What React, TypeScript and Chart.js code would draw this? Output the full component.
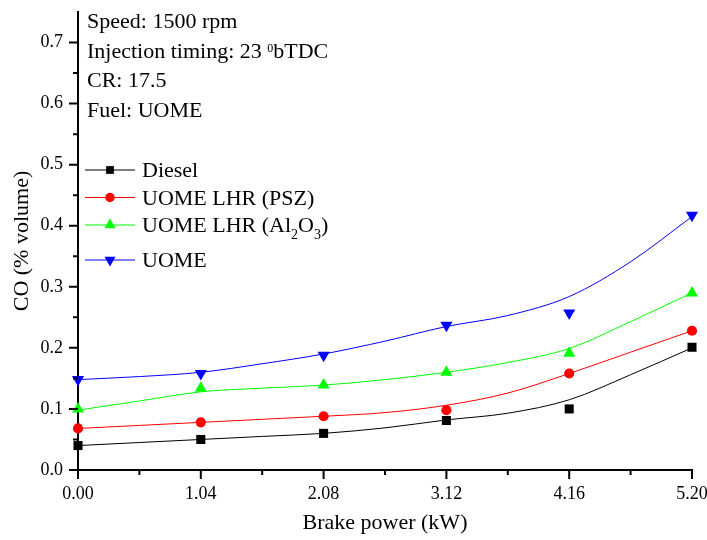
import { useEffect, useRef } from 'react';
import { Chart, registerables } from 'chart.js';
import { drawPoint } from 'chart.js/helpers';

Chart.register(...registerables);

const FONT = '"Liberation Serif", "Times New Roman", serif';

// Measured points
const X_VALUES = [0, 1.04, 2.08, 3.12, 4.16, 5.2];
const DIESEL = [0.04, 0.05, 0.06, 0.081, 0.1, 0.201];
const UOME_PSZ = [0.068, 0.078, 0.088, 0.098, 0.158, 0.228];
const UOME_AL2O3 = [0.1, 0.134, 0.139, 0.16, 0.191, 0.29];
const UOME = [0.148, 0.158, 0.188, 0.237, 0.257, 0.417];

// Fitted curves
const FIT_X = [0, 0.52, 1.04, 1.56, 2.08, 2.6, 3.12, 3.64, 4.16, 4.68, 5.2];
const FIT_DIESEL = [0.04, 0.045, 0.05, 0.055, 0.06, 0.069, 0.082, 0.093, 0.115, 0.156, 0.2];
const FIT_PSZ = [0.068, 0.073, 0.078, 0.083, 0.088, 0.094, 0.106, 0.126, 0.158, 0.193, 0.228];
const FIT_AL2O3 = [0.098, 0.113, 0.128, 0.134, 0.139, 0.148, 0.16, 0.176, 0.199, 0.243, 0.29];
const FIT_UOME = [0.148, 0.153, 0.16, 0.174, 0.19, 0.211, 0.235, 0.253, 0.284, 0.341, 0.415];

const X_TICKS_MAJOR = [0, 1.04, 2.08, 3.12, 4.16, 5.2];
const X_TICKS_MINOR = [0.52, 1.56, 2.6, 3.64, 4.68];
const Y_TICKS_MAJOR = [0, 0.1, 0.2, 0.3, 0.4, 0.5, 0.6, 0.7];
const Y_TICKS_MINOR = [0.05, 0.15, 0.25, 0.35, 0.45, 0.55, 0.65];

type Part = { t: string; m?: 'sup' | 'sub' };

const ANNOTATION: Part[][] = [
  [{ t: 'Speed: 1500 rpm' }],
  [{ t: 'Injection timing: 23 ' }, { t: '0', m: 'sup' }, { t: 'bTDC' }],
  [{ t: 'CR: 17.5' }],
  [{ t: 'Fuel: UOME' }],
];

const SERIES = [
  { label: [{ t: 'Diesel' }] as Part[], color: '#000000', style: 'rect', radius: 6.4, legR: 5.5, rotation: 0, pts: DIESEL, fit: FIT_DIESEL },
  { label: [{ t: 'UOME LHR (PSZ)' }] as Part[], color: '#FF0000', style: 'circle', radius: 5.1, legR: 4.7, rotation: 0, pts: UOME_PSZ, fit: FIT_PSZ },
  {
    label: [{ t: 'UOME LHR (Al' }, { t: '2', m: 'sub' }, { t: 'O' }, { t: '3', m: 'sub' }, { t: ')' }] as Part[],
    color: '#00FF00', style: 'triangle', radius: 7, legR: 6.4, rotation: 0, pts: UOME_AL2O3, fit: FIT_AL2O3,
  },
  { label: [{ t: 'UOME' }] as Part[], color: '#0000FF', style: 'triangle', radius: 7, legR: 6.4, rotation: 180, pts: UOME, fit: FIT_UOME },
];

function drawRich(ctx: CanvasRenderingContext2D, parts: Part[], x: number, y: number, size: number) {
  let cx = x;
  for (const p of parts) {
    const s = p.m === 'sup' ? 12 : p.m === 'sub' ? 14 : size;
    ctx.font = `${s}px ${FONT}`;
    const dy = p.m === 'sup' ? -6 : p.m === 'sub' ? 7 : 0;
    ctx.fillText(p.t, cx, y + dy);
    cx += ctx.measureText(p.t).width;
  }
}

const overlayPlugin = {
  id: 'overlay',
  afterDraw(chart: any) {
    const ctx: CanvasRenderingContext2D = chart.ctx;
    const xs = chart.scales.x;
    const ys = chart.scales.y;
    ctx.save();
    ctx.strokeStyle = '#000';
    ctx.lineWidth = 2;
    ctx.beginPath();
    const bottom = ys.getPixelForValue(0);
    const left = xs.getPixelForValue(0);
    for (const v of X_TICKS_MAJOR) {
      const px = xs.getPixelForValue(v);
      ctx.moveTo(px, bottom);
      ctx.lineTo(px, bottom + 9);
    }
    for (const v of X_TICKS_MINOR) {
      const px = xs.getPixelForValue(v);
      ctx.moveTo(px, bottom);
      ctx.lineTo(px, bottom + 5);
    }
    for (const v of Y_TICKS_MAJOR) {
      const py = ys.getPixelForValue(v);
      ctx.moveTo(left, py);
      ctx.lineTo(left - 9, py);
    }
    for (const v of Y_TICKS_MINOR) {
      const py = ys.getPixelForValue(v);
      ctx.moveTo(left, py);
      ctx.lineTo(left - 5, py);
    }
    ctx.stroke();

    // annotation text
    ctx.fillStyle = '#000';
    ctx.textBaseline = 'alphabetic';
    ctx.textAlign = 'left';
    const annBase = [28, 58, 87, 117];
    ANNOTATION.forEach((parts, i) => drawRich(ctx, parts, 87, annBase[i], 22));

    // legend
    const legY = [170, 197.5, 225, 260];
    SERIES.forEach((s, i) => {
      const y = legY[i];
      ctx.strokeStyle = s.color;
      ctx.lineWidth = 1;
      ctx.beginPath();
      ctx.moveTo(85, y);
      ctx.lineTo(135, y);
      ctx.stroke();
      ctx.fillStyle = s.color;
      ctx.strokeStyle = s.color;
      drawPoint(ctx, { pointStyle: s.style as any, radius: s.legR, rotation: s.rotation, borderWidth: 0 }, 110, y);
      ctx.fillStyle = '#000';
      drawRich(ctx, s.label, 142, y + 7, 22);
    });
    ctx.restore();
  },
};

function zeroPad(scale: any) {
  scale.paddingLeft = 0;
  scale.paddingRight = 0;
  scale.paddingTop = 0;
  scale.paddingBottom = 0;
}

export default function App() {
  const ref = useRef<HTMLCanvasElement>(null);
  useEffect(() => {
    if (!ref.current) return;
    const datasets: any[] = [];
    SERIES.forEach((s) => {
      datasets.push({
        type: 'line',
        data: FIT_X.map((x, i) => ({ x, y: s.fit[i] })),
        borderColor: s.color,
        borderWidth: 1,
        pointRadius: 0,
        cubicInterpolationMode: 'monotone',
        fill: false,
        order: 2,
      });
      datasets.push({
        type: 'scatter',
        data: X_VALUES.map((x, i) => ({ x, y: s.pts[i] })),
        backgroundColor: s.color,
        borderColor: s.color,
        borderWidth: 0,
        pointStyle: s.style,
        pointRadius: s.radius,
        pointRotation: s.rotation,
        showLine: false,
        clip: false,
        order: 1,
      });
    });
    const chart = new Chart(ref.current, {
      type: 'scatter',
      data: { datasets },
      options: {
        animation: false,
        responsive: false,
        maintainAspectRatio: false,
        layout: { padding: { top: 12, right: 15, left: 0, bottom: 0 } },
        plugins: { legend: { display: false }, tooltip: { enabled: false } },
        scales: {
          x: {
            type: 'linear',
            min: 0,
            max: 5.2,
            afterBuildTicks: (scale: any) => {
              scale.ticks = X_TICKS_MAJOR.map((v) => ({ value: v }));
            },
            afterFit: (scale: any) => {
              scale.height = 70;
              zeroPad(scale);
            },
            ticks: {
              color: '#000',
              font: { family: FONT, size: 18 },
              padding: 13,
              maxRotation: 0,
              autoSkip: false,
              callback: (v: any) => Number(v).toFixed(2),
            },
            grid: { display: true, drawOnChartArea: false, drawTicks: false },
            border: { display: true, color: '#000', width: 2 },
            title: {
              display: true,
              text: 'Brake power (kW)',
              color: '#000',
              font: { family: FONT, size: 22 },
              padding: { top: 0, bottom: 4 },
            },
          },
          y: {
            type: 'linear',
            min: 0,
            max: 0.75,
            afterBuildTicks: (scale: any) => {
              scale.ticks = Y_TICKS_MAJOR.map((v) => ({ value: v }));
            },
            afterFit: (scale: any) => {
              scale.width = 78;
              zeroPad(scale);
            },
            ticks: {
              color: '#000',
              font: { family: FONT, size: 18 },
              padding: 15,
              autoSkip: false,
              callback: (v: any) => Number(v).toFixed(1),
            },
            grid: { display: true, drawOnChartArea: false, drawTicks: false },
            border: { display: true, color: '#000', width: 2 },
            title: {
              display: true,
              text: 'CO (% volume)',
              color: '#000',
              font: { family: FONT, size: 22 },
              padding: { top: 9, bottom: 0 },
            },
          },
        },
      },
      plugins: [overlayPlugin],
    } as any);
    return () => chart.destroy();
  }, []);
  return (
    <div style={{ position: 'absolute', left: 0, top: 0, width: 707, height: 540, background: '#fff' }}>
      <canvas ref={ref} width={707} height={540} />
    </div>
  );
}
